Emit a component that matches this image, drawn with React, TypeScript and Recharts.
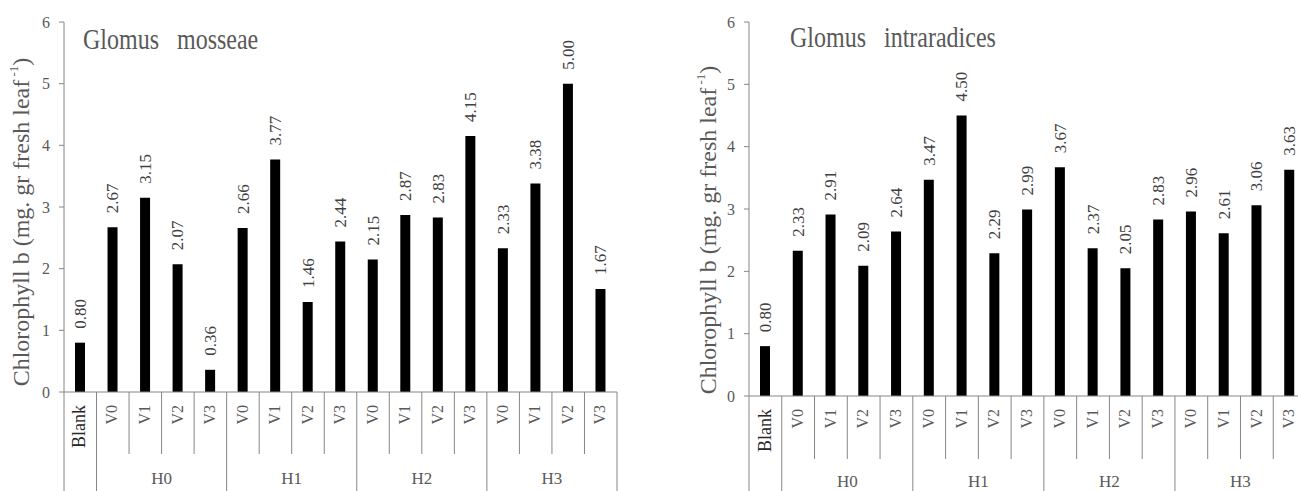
import React from 'react';
import { BarChart, Bar, XAxis, YAxis, LabelList } from 'recharts';

// treatments along the x axis (Blank + V0..V3 under each H level)
const categories = ['Blank', 'V0', 'V1', 'V2', 'V3', 'V0', 'V1', 'V2', 'V3', 'V0', 'V1', 'V2', 'V3', 'V0', 'V1', 'V2', 'V3'];
const groupNames = ['H0', 'H1', 'H2', 'H3'];

// chlorophyll b, mg per gr fresh leaf
const mosseae = [0.8, 2.67, 3.15, 2.07, 0.36, 2.66, 3.77, 1.46, 2.44, 2.15, 2.87, 2.83, 4.15, 2.33, 3.38, 5.0, 1.67];
const intraradices = [0.8, 2.33, 2.91, 2.09, 2.64, 3.47, 4.5, 2.29, 2.99, 3.67, 2.37, 2.05, 2.83, 2.96, 2.61, 3.06, 3.63];

const yTicks = [0, 1, 2, 3, 4, 5, 6];

const FONT = 'Liberation Serif';
const TEXT = '#595959';
const LINE = '#868686';

interface PanelProps {
  values: number[];
  title: string;
  width: number;
  yAxisWidth: number;
  rightMargin: number;
  axisHeight: number;
  shortDivider: number;
  groupLabelY: number;
  titleX: number;
  titleY: number;
  labelX: number;
  labelY: number;
}

const Panel = ({ values, title, width, yAxisWidth, rightMargin, axisHeight, shortDivider, groupLabelY, titleX, titleY, labelX, labelY }: PanelProps) => {
  const height = 491;
  const top = 22;
  const band = (width - yAxisWidth - rightMargin) / categories.length;
  const data = categories.map((name, i) => ({ id: i, name, value: values[i] }));

  const renderTick = (props: any) => {
    const { x, y, payload } = props;
    const i = Number(payload.value);
    const groupStart = i === 0 || (i - 1) % 4 === 0;
    const last = i === categories.length - 1;
    const showGroup = i > 0 && (i - 1) % 4 === 2;
    return (
      <g>
        <line x1={x - band / 2} x2={x - band / 2} y1={y} y2={groupStart ? y + axisHeight : y + shortDivider} stroke={LINE} strokeWidth={1} />
        {last && <line x1={x + band / 2} x2={x + band / 2} y1={y} y2={y + axisHeight} stroke={LINE} strokeWidth={1} />}
        <text
          transform={`translate(${x + 1},${y + 13}) rotate(-90)`}
          textAnchor="end"
          dominantBaseline="middle"
          fontFamily={FONT}
          fontSize={i === 0 ? 18 : 16}
          fill={i === 0 ? '#262626' : TEXT}
        >
          {categories[i]}
        </text>
        {showGroup && (
          <text x={x - band / 2} y={y + groupLabelY} textAnchor="middle" dominantBaseline="middle" fontFamily={FONT} fontSize={17} fill={TEXT}>
            {groupNames[Math.floor((i - 1) / 4)]}
          </text>
        )}
      </g>
    );
  };

  const renderValue = (props: any) => {
    const { x, y, width: w, value } = props;
    const cx = Number(x) + Number(w) / 2 + 2;
    const cy = Number(y) - 14;
    return (
      <text
        transform={`translate(${cx},${cy}) rotate(-90)`}
        textAnchor="start"
        dominantBaseline="middle"
        fontFamily={FONT}
        fontSize={17}
        fill="#404040"
      >
        {Number(value).toFixed(2)}
      </text>
    );
  };

  return (
    <BarChart width={width} height={height} data={data} margin={{ top, right: rightMargin, bottom: 0, left: 0 }}>
      <XAxis
        dataKey="id"
        height={axisHeight}
        interval={0}
        tickSize={0}
        tickMargin={0}
        tickLine={false}
        axisLine={{ stroke: LINE }}
        tick={renderTick}
      />
      <YAxis
        width={yAxisWidth}
        domain={[0, 6]}
        ticks={yTicks}
        interval={0}
        tickSize={5}
        tickMargin={9}
        axisLine={{ stroke: LINE }}
        tickLine={{ stroke: LINE }}
        tick={{ fill: TEXT, fontSize: 16, fontFamily: FONT }}
      />
      <Bar dataKey="value" fill="#000" barSize={10} isAnimationActive={false}>
        <LabelList dataKey="value" content={renderValue} />
      </Bar>
      <text
        transform={`translate(${titleX},${titleY}) scale(0.8,1)`}
        fontFamily={FONT}
        fontSize={30}
        fill={TEXT}
        style={{ whiteSpace: 'pre' }}
      >
        {title}
      </text>
      <text
        transform={`translate(${labelX},${labelY}) rotate(-90)`}
        textAnchor="middle"
        dominantBaseline="middle"
        fontFamily={FONT}
        fontSize={24}
        fill={TEXT}
      >
        Chlorophyll b (mg. gr fresh leaf
        <tspan fontSize={13} dy={-8}> -1</tspan>
        <tspan dy={8}>)</tspan>
      </text>
    </BarChart>
  );
};

export default function App() {
  return (
    <div style={{ position: 'fixed', left: 0, top: 0, width: 1298, height: 491, overflow: 'hidden', background: '#fff' }}>
      <div style={{ position: 'absolute', left: 0, top: 0 }}>
        <Panel
          values={mosseae}
          title={'Glomus   mosseae'}
          width={640}
          yAxisWidth={64}
          rightMargin={23}
          axisHeight={99}
          shortDivider={62}
          groupLabelY={88}
          titleX={83}
          titleY={49}
          labelX={23}
          labelY={222}
        />
      </div>
      <div style={{ position: 'absolute', left: 640, top: 0 }}>
        <Panel
          values={intraradices}
          title={'Glomus   intraradices'}
          width={666}
          yAxisWidth={109}
          rightMargin={0}
          axisHeight={95}
          shortDivider={63}
          groupLabelY={87}
          titleX={150}
          titleY={47}
          labelX={70}
          labelY={230}
        />
      </div>
    </div>
  );
}
